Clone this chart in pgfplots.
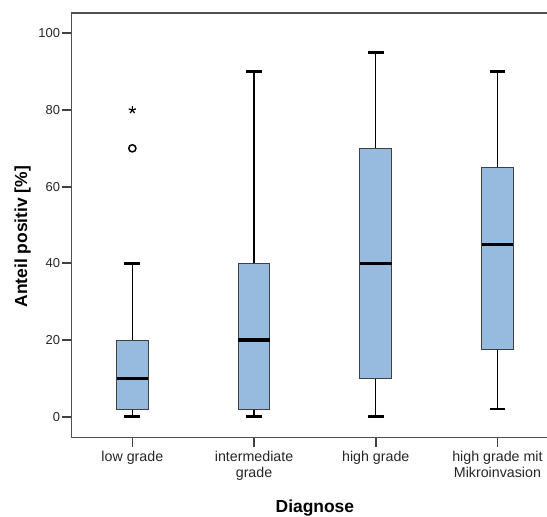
\documentclass[border=0pt]{standalone}
\usepackage{fontspec}
\setmainfont{Liberation Sans}
\usepackage{pgfplots}
\pgfplotsset{compat=1.18}
\usepgfplotslibrary{statistics}
\definecolor{boxfill}{RGB}{151,187,223}
\definecolor{axgray}{RGB}{80,80,80}
\pgfplotsset{
  boxplot/draw/lower whisker/.code={%
    \draw[black, line width=1.3pt]
      (boxplot box cs:\pgfplotsboxplotvalue{lower whisker},0.5) --
      (boxplot box cs:\pgfplotsboxplotvalue{lower quartile},0.5);
    \draw[black, line width=2.5pt]
      (boxplot whisker cs:\pgfplotsboxplotvalue{lower whisker},0) --
      (boxplot whisker cs:\pgfplotsboxplotvalue{lower whisker},1);
  },
  boxplot/draw/upper whisker/.code={%
    \draw[black, line width=1.3pt]
      (boxplot box cs:\pgfplotsboxplotvalue{upper whisker},0.5) --
      (boxplot box cs:\pgfplotsboxplotvalue{upper quartile},0.5);
    \draw[black, line width=2.5pt]
      (boxplot whisker cs:\pgfplotsboxplotvalue{upper whisker},0) --
      (boxplot whisker cs:\pgfplotsboxplotvalue{upper whisker},1);
  },
}
\begin{document}
\begin{tikzpicture}
\begin{axis}[
  at={(0,0)}, anchor=south west,
  scale only axis,
  width=486.8bp, height=424.7bp,
  xmin=-0.5, xmax=3.5,
  ymin=-5.48, ymax=105.3,
  axis line style={axgray, line width=1.4pt},
  ytick={0,20,40,60,80,100},
  xtick={0,1,2,3},
  xticklabels={low grade, intermediate\\grade, high grade, high grade mit\\Mikroinvasion},
  xticklabel style={align=center, font=\fontsize{14.3}{16.5}\selectfont, text=black!85, yshift=-1bp},
  yticklabel style={font=\fontsize{13}{15}\selectfont, text=black!85, xshift=1bp},
  /pgf/number format/assume math mode=true,
  tick align=outside,
  major tick length=9bp,
  major tick style={draw=black!75, line width=1.7pt},
  xtick pos=bottom, ytick pos=left,
  xlabel={\fontsize{17.5}{20}\selectfont\bfseries Diagnose},
  ylabel={\fontsize{17.5}{20}\selectfont\bfseries Anteil positiv [\%]},
  every axis x label/.style={at={(rel axis cs:0.5,0)}, anchor=center, yshift=-70.5bp},
  every axis y label/.style={at={(rel axis cs:0,0.5)}, xshift=-49bp, yshift=-11.5bp, rotate=90, anchor=center},
  boxplot/draw direction=y,
  boxplot/box extend=0.26,
  boxplot/whisker extend=0.13,
  clip=false,
]
\addplot+[boxplot prepared={draw position=0, lower whisker=0, lower quartile=2, median=10, upper quartile=20, upper whisker=40},
  fill=boxfill, draw=black!75, line width=0.9pt, solid,
  boxplot/every median/.style={draw=black, line width=3.1pt}] coordinates {};
\addplot+[boxplot prepared={draw position=1, lower whisker=0, lower quartile=2, median=20, upper quartile=40, upper whisker=90},
  fill=boxfill, draw=black!75, line width=0.9pt, solid,
  boxplot/every median/.style={draw=black, line width=3.1pt}] coordinates {};
\addplot+[boxplot prepared={draw position=2, lower whisker=0, lower quartile=10, median=40, upper quartile=70, upper whisker=95},
  fill=boxfill, draw=black!75, line width=0.9pt, solid,
  boxplot/every median/.style={draw=black, line width=3.1pt}] coordinates {};
\addplot+[boxplot prepared={draw position=3, lower whisker=2, lower quartile=17.5, median=45, upper quartile=65, upper whisker=90},
  fill=boxfill, draw=black!75, line width=0.9pt, solid,
  boxplot/every median/.style={draw=black, line width=3.1pt}] coordinates {};
\addplot[only marks, mark=o, mark size=3.6bp, black, line width=1.5pt] coordinates {(0,70)};
\addplot[only marks, mark=star, mark size=3.8bp, black, line width=1.2pt] coordinates {(0,80)};
\end{axis}
\pgfresetboundingbox
\path[use as bounding box] (-71.5bp,-79.3bp) rectangle (475.5bp,437.7bp);
\end{tikzpicture}
\end{document}
